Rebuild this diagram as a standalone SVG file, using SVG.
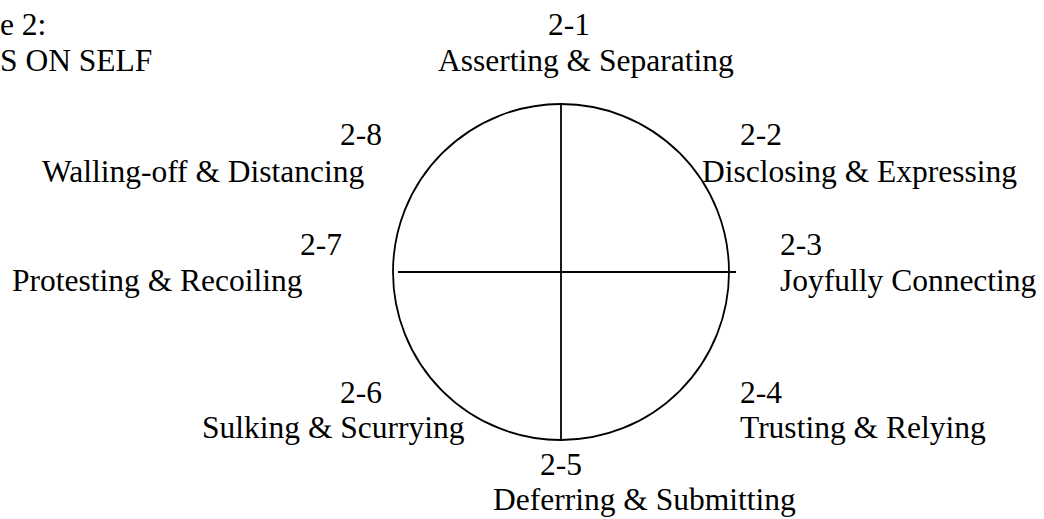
<svg xmlns="http://www.w3.org/2000/svg" width="1044" height="519" viewBox="0 0 1044 519">
<style>
.t{font-family:'Liberation Serif','Times New Roman',Times,serif;font-size:31.5px;fill:#000}
.ln{stroke:#000;stroke-width:1.8;fill:none}
</style>
<rect width="1044" height="519" fill="#fff"/>
<g class="t">
<g id="title">
<text x="0" y="35">e 2:</text>
<text x="0" y="71">S ON SELF</text>
</g>
<g id="n21"><text x="548" y="35">2-1</text><text x="438" y="71">Asserting &amp; Separating</text></g>
<g id="n22"><text x="740" y="145">2-2</text><text x="702" y="182">Disclosing &amp; Expressing</text></g>
<g id="n23"><text x="780" y="255">2-3</text><text x="780" y="291">Joyfully Connecting</text></g>
<g id="n24"><text x="740" y="403">2-4</text><text x="740" y="438">Trusting &amp; Relying</text></g>
<g id="n25"><text x="540" y="475">2-5</text><text x="493" y="510">Deferring &amp; Submitting</text></g>
<g id="n26"><text x="340" y="403">2-6</text><text x="202" y="438">Sulking &amp; Scurrying</text></g>
<g id="n27"><text x="300" y="255">2-7</text><text x="12" y="291">Protesting &amp; Recoiling</text></g>
<g id="n28"><text x="340" y="145">2-8</text><text x="42" y="182">Walling-off &amp; Distancing</text></g>
</g>
<g id="connectors">
<circle class="ln" cx="561" cy="272" r="168"/>
<line class="ln" x1="561" y1="104" x2="561" y2="440"/>
<line class="ln" x1="398" y1="272" x2="736" y2="272"/>
</g>
</svg>
